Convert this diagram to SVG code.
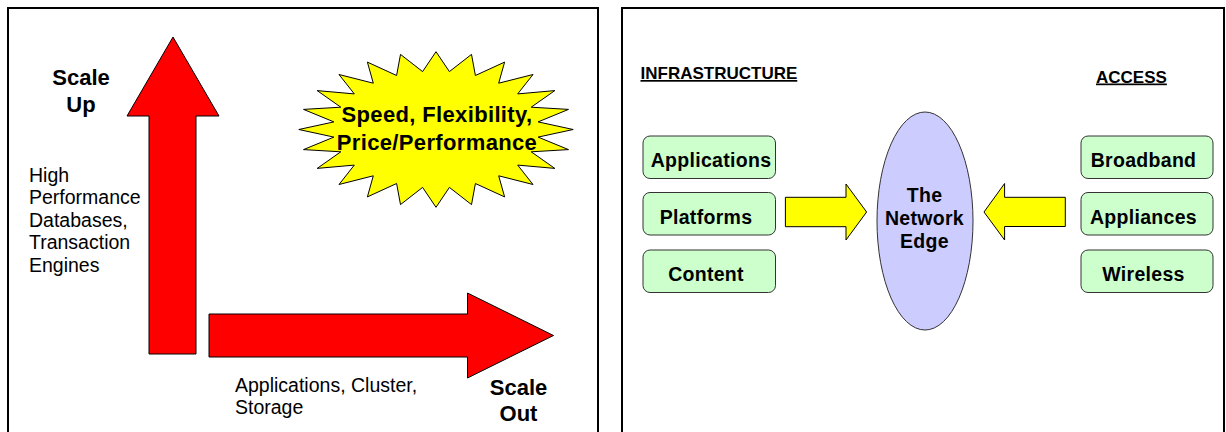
<svg xmlns="http://www.w3.org/2000/svg" width="1226" height="432" viewBox="0 0 1226 432">
<style>
.panel{fill:#ffffff;stroke:#000000;stroke-width:2}
.red{fill:#ff0000;stroke:#000000;stroke-width:1}
.yel{fill:#ffff00;stroke:#000000;stroke-width:1}
.box{fill:#ccffcc;stroke:#333333;stroke-width:1}
.ell{fill:#ccccff;stroke:#333333;stroke-width:1}
text{font-family:"Liberation Sans",Arial,sans-serif;fill:#000000}
.big{font-size:22px;font-weight:bold}
.star{letter-spacing:0.35px}
.reg{font-size:19.5px}
.hd{font-size:17px;font-weight:bold;text-decoration:underline}
.bx{font-size:19.5px;font-weight:bold;text-anchor:middle;letter-spacing:0.3px}
</style>
<rect width="1226" height="432" fill="#ffffff"/>
<g id="panel-left"><rect class="panel" x="8" y="8" width="590" height="440"/></g>
<g id="panel-right"><rect class="panel" x="622" y="8" width="602" height="440"/></g>

<g id="scale-up">
<polygon class="red" points="149,354 149,116 127,116 173,37 219,116 196,116 196,354"/>
<text class="big" x="81" y="85" text-anchor="middle">Scale</text>
<text class="big" x="81" y="111.5" text-anchor="middle">Up</text>
</g>
<g id="scale-up-label">
<text class="reg" x="29" y="181.5">High</text>
<text class="reg" x="29" y="204">Performance</text>
<text class="reg" x="29" y="226.5">Databases,</text>
<text class="reg" x="29" y="249">Transaction</text>
<text class="reg" x="29" y="271.5">Engines</text>
</g>
<g id="scale-out">
<polygon class="red" points="209,314 467.5,314 467.5,293 553.5,335.5 467.5,378 467.5,357 209,357"/>
<text class="big" x="518.5" y="395" text-anchor="middle">Scale</text>
<text class="big" x="518.5" y="420.5" text-anchor="middle">Out</text>
</g>
<g id="scale-out-label">
<text class="reg" x="235" y="391.5">Applications, Cluster,</text>
<text class="reg" x="235" y="413.5">Storage</text>
</g>
<g id="starburst">
<polygon class="yel" points="436,51.7 449.4,71.6 471.5,54.4 475.4,75.5 504.6,62.1 498.7,83.2 533,74.5 517.7,93.9 554.8,90.6 531.2,107.2 568.5,109.4 538.1,121.9 573.2,129.5 538.1,137.1 568.5,149.6 531.2,151.8 554.8,168.4 517.7,165.1 533,184.5 498.7,175.8 504.6,196.9 475.4,183.5 471.5,204.6 449.4,187.4 436,207.3 422.6,187.4 400.5,204.6 396.6,183.5 367.4,196.9 373.3,175.8 339,184.5 354.3,165.1 317.2,168.4 340.8,151.8 303.5,149.6 333.9,137.1 298.8,129.5 333.9,121.9 303.5,109.4 340.8,107.2 317.2,90.6 354.3,93.9 339,74.5 373.3,83.2 367.4,62.1 396.6,75.5 400.5,54.4 422.6,71.6"/>
<text class="big star" x="437" y="122" text-anchor="middle">Speed, Flexibility,</text>
<text class="big star" x="437" y="149.5" text-anchor="middle">Price/Performance</text>
</g>

<g id="hdr-infrastructure"><text class="hd" x="640.5" y="79">INFRASTRUCTURE</text></g>
<g id="hdr-access"><text class="hd" x="1096" y="82.5">ACCESS</text></g>

<g id="applications"><rect class="box" x="643" y="136" width="132.5" height="42.5" rx="7"/><text class="bx" x="711" y="166.5">Applications</text></g>
<g id="platforms"><rect class="box" x="643" y="192.5" width="132.5" height="42.5" rx="7"/><text class="bx" x="706" y="223.5">Platforms</text></g>
<g id="content"><rect class="box" x="643" y="250" width="132.5" height="42.5" rx="7"/><text class="bx" x="706" y="281">Content</text></g>

<g id="broadband"><rect class="box" x="1081" y="136" width="132" height="42.5" rx="7"/><text class="bx" x="1143.5" y="166.5">Broadband</text></g>
<g id="appliances"><rect class="box" x="1081" y="192.5" width="132" height="42.5" rx="7"/><text class="bx" x="1143.5" y="223.5">Appliances</text></g>
<g id="wireless"><rect class="box" x="1081" y="250" width="132" height="42.5" rx="7"/><text class="bx" x="1143.5" y="281">Wireless</text></g>

<g id="network-edge">
<ellipse class="ell" cx="925" cy="221" rx="48" ry="109"/>
<text class="bx" x="924.5" y="201.5">The</text>
<text class="bx" x="924.5" y="224.5">Network</text>
<text class="bx" x="924.5" y="247.5">Edge</text>
</g>

<g id="connectors">
<polygon class="yel" points="785.4,197.3 846,197.3 846,184 866.6,212 846,240 846,226.7 785.4,226.7"/>
<polygon class="yel" points="1065.3,197.3 1004.6,197.3 1004.6,183.5 984,212 1004.6,240 1004.6,226.5 1065.3,226.5"/>
</g>
</svg>
